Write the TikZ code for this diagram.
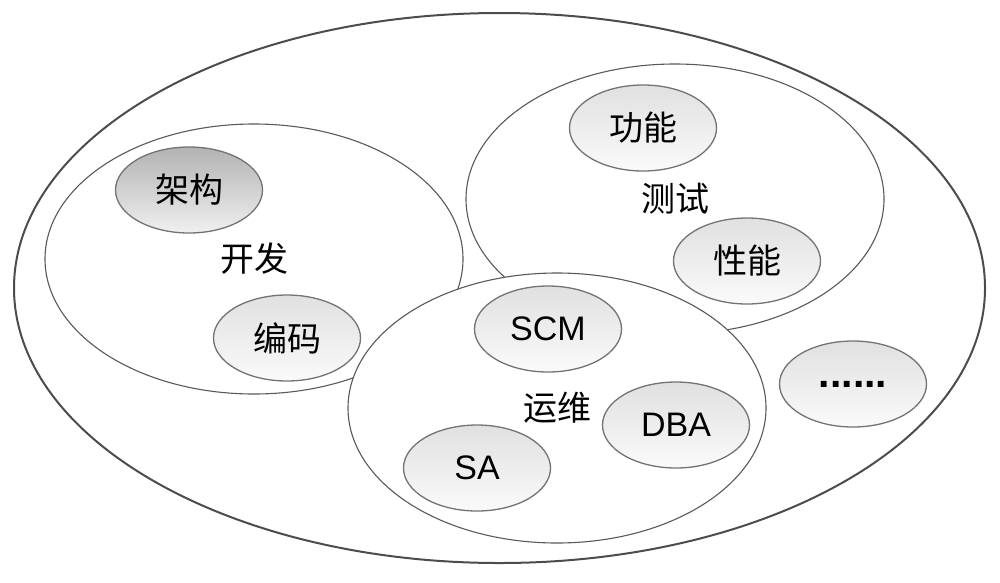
\documentclass[tikz,border=0pt]{standalone}
\usepackage{fontspec}
\setmainfont{Liberation Sans}
\newfontfamily\cjk{Noto Sans CJK SC}
\usetikzlibrary{shapes.geometric}
\begin{document}
\begin{tikzpicture}[x=1pt,y=-1pt,
  outerell/.style={ellipse,draw=black!70,line width=2pt,minimum width=971pt,minimum height=550pt,inner sep=0pt},
  groupell/.style={ellipse,draw=black!65,line width=1.1pt,fill=white,minimum width=418pt,minimum height=270pt,inner sep=0pt,font=\fontsize{34}{38}\selectfont\cjk},
  itemell/.style={ellipse,draw=black!55,line width=1.3pt,top color=black!12,bottom color=black!2,minimum width=147pt,minimum height=86pt,inner sep=0pt,font=\fontsize{34}{38}\selectfont},
  darkell/.style={itemell,top color=black!30,bottom color=black!6}
]
\useasboundingbox (0,0) rectangle (1000,582);
\node[outerell] (outer) at (499.5,288) {};
\node[groupell] (kaifa) at (254,259) {开发};
\node[groupell] (ceshi) at (675,199) {测试};
\node[groupell] (yunwei) at (557,408) {运维};
\node[darkell] (jiagou) at (189,190) {\cjk 架构};
\node[itemell] (bianma) at (287,338) {\cjk 编码};
\node[itemell] (gongneng) at (643,128) {\cjk 功能};
\node[itemell] (xingneng) at (747,261) {\cjk 性能};
\node[itemell] (scm) at (548,329) {SCM};
\node[itemell] (dba) at (676,425) {DBA};
\node[itemell] (sa) at (477,468) {SA};
\node[itemell,font=\fontsize{41}{44}\selectfont\bfseries] (more) at (853,384) {......};
\end{tikzpicture}
\end{document}
